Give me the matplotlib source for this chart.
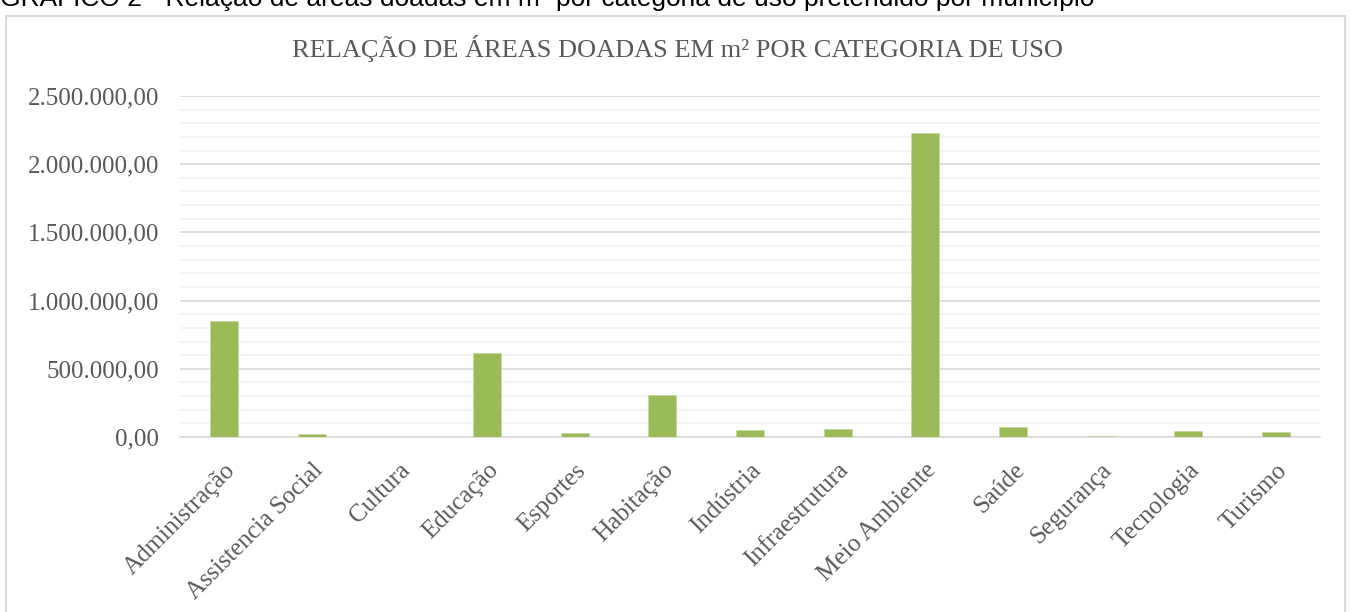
import numpy as np
import matplotlib
matplotlib.use("Agg")
import matplotlib.pyplot as plt
from matplotlib.ticker import FuncFormatter, MultipleLocator
from matplotlib.patches import Rectangle

categorias = ['Administração', 'Assistencia Social', 'Cultura', 'Educação', 'Esportes',
              'Habitação', 'Indústria', 'Infraestrutura', 'Meio Ambiente', 'Saúde',
              'Segurança', 'Tecnologia', 'Turismo']
areas = [848000, 22000, 0, 616000, 29000, 311000, 51000, 59000, 2231000, 73000, 5000, 44000, 40000]

cinza = '#595959'
verde = '#9BBB59'


def fmt_br(v, pos):
    s = f"{v:,.2f}"
    return s.replace(',', 'X').replace('.', ',').replace('X', '.')


fig = plt.figure(figsize=(13.51, 6.12), dpi=100)
ax = fig.add_axes([180 / 1351, 1 - 437 / 612, 1140 / 1351, 341 / 612])

x = np.arange(len(categorias))
ax.bar(x, areas, width=0.32, color=verde, edgecolor='#c5d9a0', linewidth=0.6, zorder=3)

ax.set_xlim(-0.5, len(categorias) - 0.5)
ax.set_ylim(0, 2500000)
ax.yaxis.set_major_locator(MultipleLocator(500000))
ax.yaxis.set_minor_locator(MultipleLocator(100000))
ax.yaxis.set_major_formatter(FuncFormatter(fmt_br))
ax.grid(axis='y', which='major', color='#d9d9d9', linewidth=1.2, zorder=0)
ax.grid(axis='y', which='minor', color='#f2f2f2', linewidth=1.2, zorder=0)

for s in ['top', 'right', 'left']:
    ax.spines[s].set_visible(False)
ax.spines['bottom'].set_color('#d9d9d9')
ax.spines['bottom'].set_linewidth(1.2)

ax.set_xticks(x)
ax.set_xticklabels(categorias, rotation=45, ha='right', rotation_mode='anchor',
                   fontsize=18, color=cinza, family='Liberation Serif')
ax.tick_params(axis='both', which='both', length=0)
ax.tick_params(axis='x', pad=16)
ax.tick_params(axis='y', pad=15)
for lbl in ax.get_yticklabels():
    lbl.set_fontsize(18)
    lbl.set_color(cinza)
    lbl.set_family('Liberation Serif')

# moldura do gráfico
fig.patches.append(Rectangle((6 / 1351, -0.02), 1339 / 1351, 1 - 16 / 612 + 0.02,
                             transform=fig.transFigure, fill=False,
                             edgecolor='#d9d9d9', linewidth=1.5))

fig.text(678 / 1351, 1 - 48 / 612, 'RELAÇÃO DE ÁREAS DOADAS EM m² POR CATEGORIA DE USO',
         ha='center', va='center', fontsize=19, color=cinza, family='Liberation Serif')

fig.text(0, 1 - 6 / 612, 'GRÁFICO 2 - Relação de áreas doadas em m² por categoria de uso pretendido por município',
         ha='left', va='baseline', fontsize=19, color='black', family='Liberation Sans')

fig.savefig('out.png', dpi=100)
